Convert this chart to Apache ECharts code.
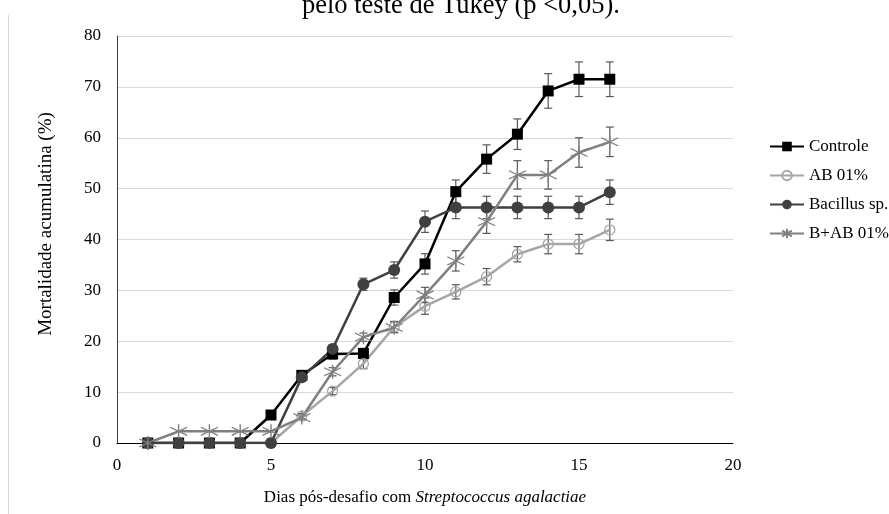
<!DOCTYPE html>
<html>
<head>
<meta charset="utf-8">
<script src="https://cdn.jsdelivr.net/npm/echarts@6/dist/echarts.min.js"></script>
<style>html,body{margin:0;padding:0;background:#fff}#c{width:889px;height:514px}</style>
</head>
<body>
<div id="c"></div>
<script>
var days = [1,2,3,4,5,6,7,8,9,10,11,12,13,14,15,16];
var seriesNames = ['Controle','AB 01%','Bacillus sp.','B+AB 01%'];
var controle    = [0,0,0,0,5.5,13.3,17.5,17.6,28.6,35.2,49.4,55.8,60.7,69.2,71.5,71.5];
var controleErr = [0,0,0,0,0.5,0.8,1,1,1.5,2,2.3,2.8,3,3.4,3.4,3.4];
var ab          = [0,0,0,0,0,5.3,10.2,15.6,22.8,26.9,29.7,32.7,37.1,39.1,39.1,41.9];
var abErr       = [0,0,0,0,0,0.5,0.7,1,1.1,1.6,1.4,1.6,1.5,1.9,1.9,2.1];
var bacillus    = [0,0,0,0,0,12.9,18.5,31.2,34.0,43.5,46.3,46.3,46.3,46.3,46.3,49.3];
var bacillusErr = [0,0,0,0,0,0.6,0.8,1.2,1.6,2.1,2.2,2.2,2.2,2.2,2.2,2.4];
var bab         = [0,2.3,2.3,2.3,2.3,5.0,14.0,20.8,22.7,29.1,35.8,43.5,52.7,52.7,57.1,59.2];
var babErr      = [0,0,0,0,0,0.5,0.8,0.8,1,1.5,2,2.3,2.8,2.8,2.9,2.9];
var xTicks = [0,5,10,15,20];
var yTicks = [0,10,20,30,40,50,60,70,80];

var font = 'Liberation Serif';
function pairs(vals){ return days.map(function(d,i){ return [d, vals[i]]; }); }
function errData(vals, errs){ return days.map(function(d,i){ return [d, vals[i]-errs[i], vals[i]+errs[i], errs[i]]; }); }
function errSeries(vals, errs){
  return {
    type:'custom', silent:true, z:1,
    data: errData(vals, errs),
    encode:{x:0, y:[1,2]},
    renderItem:function(params, api){
      if (api.value(3) <= 0) return null;
      var lo = api.coord([api.value(0), api.value(1)]);
      var hi = api.coord([api.value(0), api.value(2)]);
      var w = 4;
      var st = {stroke:'#595959', lineWidth:1.2};
      return {type:'group', children:[
        {type:'line', shape:{x1:lo[0], y1:lo[1], x2:hi[0], y2:hi[1]}, style:st},
        {type:'line', shape:{x1:lo[0]-w, y1:lo[1], x2:lo[0]+w, y2:lo[1]}, style:st},
        {type:'line', shape:{x1:hi[0]-w, y1:hi[1], x2:hi[0]+w, y2:hi[1]}, style:st}
      ]};
    }
  };
}
var starPath = 'path://M0,3 L24,17 M0,17 L24,3 M12,-2 L12,22';

var chart = echarts.init(document.getElementById('c'));
chart.setOption({
  animation:false,
  textStyle:{fontFamily:font},
  grid:{left:117, right:156, top:36, bottom:71},
  legend:{
    orient:'vertical', left:764, top:133, itemWidth:34, itemHeight:12, itemGap:12,
    textStyle:{fontFamily:font, fontSize:17, color:'#000'},
    data:seriesNames
  },
  graphic:[
    {type:'line', shape:{x1:8.5, y1:15, x2:8.5, y2:514}, style:{stroke:'#d9d9d9', lineWidth:1}},
    {type:'text', left:302, top:-7, style:{text:'pelo teste de Tukey (p <0,05).', fontFamily:font, fontSize:26.5, fill:'#000'}},
    {type:'text', x:46, y:224, rotation:Math.PI/2,
      style:{text:'Mortalidade acumulatina (%)', fontFamily:font, fontSize:19, fill:'#000', align:'center', verticalAlign:'middle'}}
  ],
  xAxis:{
    type:'value', min:0, max:20, interval:5,
    name:'Dias pós-desafio com {i|Streptococcus agalactiae}',
    nameLocation:'middle', nameGap:46,
    nameTextStyle:{fontFamily:font, fontSize:17, color:'#000', rich:{i:{fontFamily:font, fontSize:17, fontStyle:'italic', color:'#000'}}},
    axisLine:{lineStyle:{color:'#000', width:1}},
    axisTick:{show:false},
    splitLine:{show:false},
    axisLabel:{fontFamily:font, fontSize:17, color:'#000', margin:14,
      customValues: xTicks}
  },
  yAxis:{
    type:'value', min:0, max:80, interval:10,
    axisLine:{show:true, lineStyle:{color:'#404040', width:1}},
    axisTick:{show:false},
    splitLine:{lineStyle:{color:'#d9d9d9', width:1}},
    axisLabel:{fontFamily:font, fontSize:17, color:'#000', margin:16}
  },
  series:[
    errSeries(controle, controleErr),
    errSeries(ab, abErr),
    errSeries(bacillus, bacillusErr),
    errSeries(bab, babErr),
    {name:'Controle', type:'line', z:3, data:pairs(controle), symbol:'rect', symbolSize:11,
      lineStyle:{color:'#000', width:2.5}, itemStyle:{color:'#000'}},
    {name:'AB 01%', type:'line', z:3, data:pairs(ab), symbol:'circle', symbolSize:10,
      lineStyle:{color:'#a6a6a6', width:2.5}, itemStyle:{color:'rgba(255,255,255,0)', borderColor:'#a6a6a6', borderWidth:1.3}},
    {name:'Bacillus sp.', type:'line', z:3, data:pairs(bacillus), symbol:'circle', symbolSize:12,
      lineStyle:{color:'#404040', width:2.5}, itemStyle:{color:'#404040'}},
    {name:'B+AB 01%', type:'line', z:3, data:pairs(bab), symbol:starPath, symbolSize:[17,14],
      lineStyle:{color:'#808080', width:2.5}, itemStyle:{color:'none', borderColor:'#808080', borderWidth:1.3}}
  ]
});
</script>
</body>
</html>
